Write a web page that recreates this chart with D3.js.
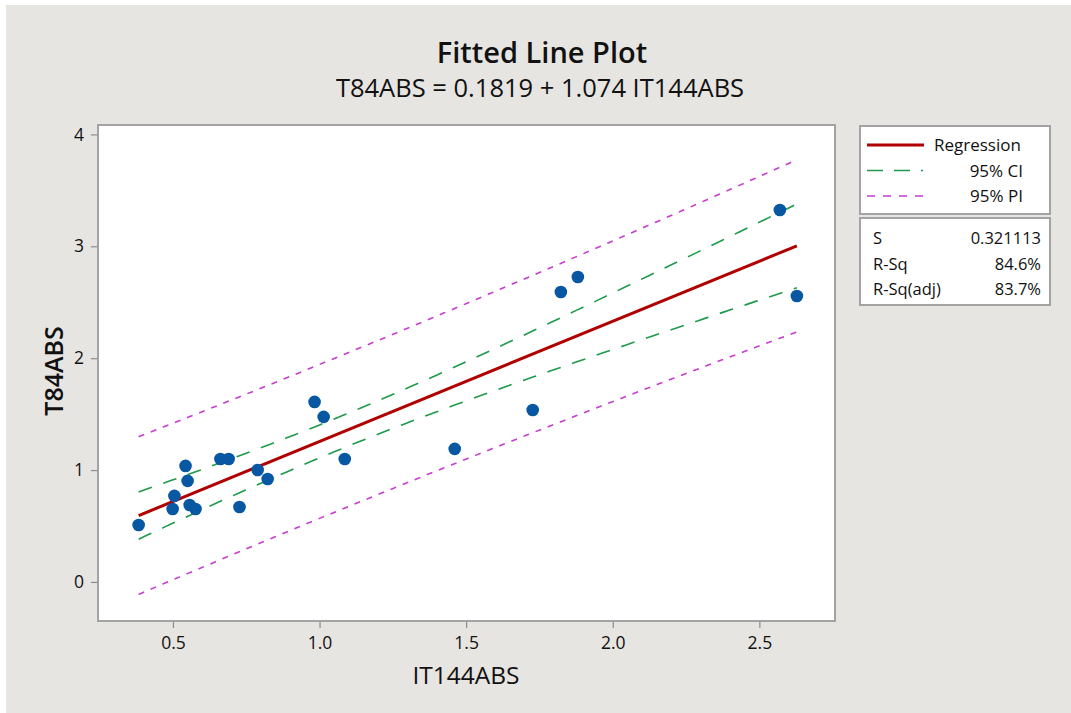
<!DOCTYPE html>
<html>
<head>
<meta charset="utf-8">
<script src="https://cdn.jsdelivr.net/npm/d3@7"></script>
<style>
  body { margin: 0; background: #ffffff; }
  text { font-family: "Open Sans", "Noto Sans", sans-serif; }
</style>
</head>
<body>
<svg id="chart" width="1071" height="713"></svg>
<script>
// Observations
const it144abs = [0.383, 0.499, 0.505, 0.543, 0.550, 0.557, 0.577, 0.662, 0.690, 0.727, 0.789,
                  0.823, 0.983, 1.014, 1.086, 1.461, 1.727, 1.823, 1.881, 2.570, 2.628];
const t84abs   = [0.509, 0.652, 0.769, 1.037, 0.903, 0.688, 0.652, 1.099, 1.099, 0.670, 1.000,
                  0.920, 1.609, 1.475, 1.099, 1.189, 1.537, 2.592, 2.726, 3.324, 2.556];

// Fitted model summary
const intercept = 0.1819;
const slope = 1.074;
const sValue = 0.321113;
const tCrit = 2.093;            // t(0.975, n - 2 = 19)

// Axis ticks
const xTicks = [0.5, 1.0, 1.5, 2.0, 2.5];
const yTicks = [0, 1, 2, 3, 4];

// Legend and summary table text
const legendLabels = ["Regression", "95% CI", "95% PI"];
const statLabels = ["S", "R-Sq", "R-Sq(adj)"];
const statValues = ["0.321113", "84.6%", "83.7%"];

const svg = d3.select("#chart");
const W = 1071, H = 713;
const plot = { left: 98, top: 125, right: 835, bottom: 621 };

const colors = {
  bg: "#e7e5e1", frame: "#a3a3a3", reg: "#b00000", ci: "#1e9a4a",
  pi: "#c83ccf", point: "#0757a3", text: "#111111"
};

// Background panel
svg.append("rect").attr("x", 0).attr("y", 0).attr("width", W).attr("height", H).attr("fill", "#ffffff");
svg.append("rect").attr("x", 6).attr("y", 5).attr("width", W - 6).attr("height", H - 5).attr("fill", colors.bg);

const x = d3.scaleLinear().domain([0.2444, 2.758]).range([plot.left, plot.right]);
const y = d3.scaleLinear().domain([-0.349, 4.084]).range([plot.bottom, plot.top]);

// Plot area
svg.append("rect")
  .attr("x", plot.left).attr("y", plot.top)
  .attr("width", plot.right - plot.left).attr("height", plot.bottom - plot.top)
  .attr("fill", "#ffffff").attr("stroke", colors.frame).attr("stroke-width", 2);

// Axes
const xAxis = d3.axisBottom(x).tickValues(xTicks).tickFormat(d3.format(".1f")).tickSizeOuter(0).tickSize(6).tickPadding(9);
const yAxis = d3.axisLeft(y).tickValues(yTicks).tickFormat(d3.format("d")).tickSizeOuter(0).tickSize(6).tickPadding(7);

const gx = svg.append("g").attr("transform", `translate(0,${plot.bottom + 1})`).call(xAxis);
const gy = svg.append("g").attr("transform", `translate(${plot.left - 1},0)`).call(yAxis);
[gx, gy].forEach(g => {
  g.select(".domain").remove();
  g.selectAll(".tick line").attr("stroke", "#8c8c8c").attr("stroke-width", 1.2);
  g.selectAll(".tick text").attr("fill", colors.text)
    .style("font-family", "'Open Sans', sans-serif").style("font-size", "17.5px");
});

// Regression statistics for the bands
const n = it144abs.length;
const xMean = d3.mean(it144abs);
const sxx = d3.sum(it144abs, v => (v - xMean) ** 2);
const xMin = d3.min(it144abs), xMax = d3.max(it144abs);
const fit = v => intercept + slope * v;
const grid = d3.range(0, 81).map(i => xMin + (xMax - xMin) * i / 80);
const halfCI = v => tCrit * sValue * Math.sqrt(1 / n + (v - xMean) ** 2 / sxx);
const halfPI = v => tCrit * sValue * Math.sqrt(1 + 1 / n + (v - xMean) ** 2 / sxx);

const line = d3.line().x(d => x(d[0])).y(d => y(d[1]));
const plotG = svg.append("g");

const bands = [
  { f: v => fit(v) + halfPI(v), color: colors.pi, dash: "6,7", w: 1.6 },
  { f: v => fit(v) - halfPI(v), color: colors.pi, dash: "6,7", w: 1.6 },
  { f: v => fit(v) + halfCI(v), color: colors.ci, dash: "14,12", w: 1.6 },
  { f: v => fit(v) - halfCI(v), color: colors.ci, dash: "14,12", w: 1.6 }
];
bands.forEach(b => {
  plotG.append("path")
    .attr("d", line(grid.map(v => [v, b.f(v)])))
    .attr("fill", "none").attr("stroke", b.color)
    .attr("stroke-width", b.w).attr("stroke-dasharray", b.dash);
});

plotG.append("path")
  .attr("d", line([[xMin, fit(xMin)], [xMax, fit(xMax)]]))
  .attr("fill", "none").attr("stroke", colors.reg).attr("stroke-width", 3);

plotG.selectAll("circle.obs")
  .data(d3.zip(it144abs, t84abs))
  .join("circle")
  .attr("class", "obs")
  .attr("cx", d => x(d[0])).attr("cy", d => y(d[1]))
  .attr("r", 6.3).attr("fill", colors.point);

// Titles
svg.append("text").attr("x", 542).attr("y", 63).attr("text-anchor", "middle")
  .attr("fill", colors.text).style("font-size", "29px").style("font-weight", 600)
  .text("Fitted Line Plot");
svg.append("text").attr("x", 540).attr("y", 97).attr("text-anchor", "middle")
  .attr("fill", colors.text).style("font-size", "25.5px")
  .text(`T84ABS = ${intercept} + ${slope} IT144ABS`);

// Axis titles
svg.append("text").attr("x", 466).attr("y", 684).attr("text-anchor", "middle")
  .attr("fill", colors.text).style("font-size", "24.5px")
  .text("IT144ABS");
svg.append("text").attr("transform", "translate(63,371) rotate(-90)").attr("text-anchor", "middle")
  .attr("fill", colors.text).style("font-size", "25px").style("font-weight", 600)
  .text("T84ABS");

// Legend box
const lg = svg.append("g");
lg.append("rect").attr("x", 860).attr("y", 126).attr("width", 190).attr("height", 88)
  .attr("fill", "#ffffff").attr("stroke", colors.frame).attr("stroke-width", 2);
const legendStyles = [
  { color: colors.reg, dash: null, w: 3 },
  { color: colors.ci, dash: "16,11,16,11,2,100", w: 1.6 },
  { color: colors.pi, dash: "8,8", w: 1.6 }
];
legendLabels.forEach((lab, i) => {
  const cy = 145 + i * 25.5;
  lg.append("line").attr("x1", 867).attr("x2", 924).attr("y1", cy).attr("y2", cy)
    .attr("stroke", legendStyles[i].color).attr("stroke-width", legendStyles[i].w)
    .attr("stroke-dasharray", legendStyles[i].dash);
  lg.append("text")
    .attr("x", i === 0 ? 934 : 1023).attr("y", cy + 6)
    .attr("text-anchor", i === 0 ? "start" : "end")
    .attr("fill", colors.text).style("font-size", "17px")
    .text(lab);
});

// Summary statistics box
const sg = svg.append("g");
sg.append("rect").attr("x", 860).attr("y", 218).attr("width", 190).attr("height", 87)
  .attr("fill", "#ffffff").attr("stroke", colors.frame).attr("stroke-width", 2);
statLabels.forEach((lab, i) => {
  const cy = 238 + i * 25.5;
  sg.append("text").attr("x", 873).attr("y", cy + 6).attr("fill", colors.text)
    .style("font-size", "16.5px").text(lab);
  sg.append("text").attr("x", 1041).attr("y", cy + 6).attr("text-anchor", "end")
    .attr("fill", colors.text).style("font-size", "16.5px").text(statValues[i]);
});
</script>
</body>
</html>
